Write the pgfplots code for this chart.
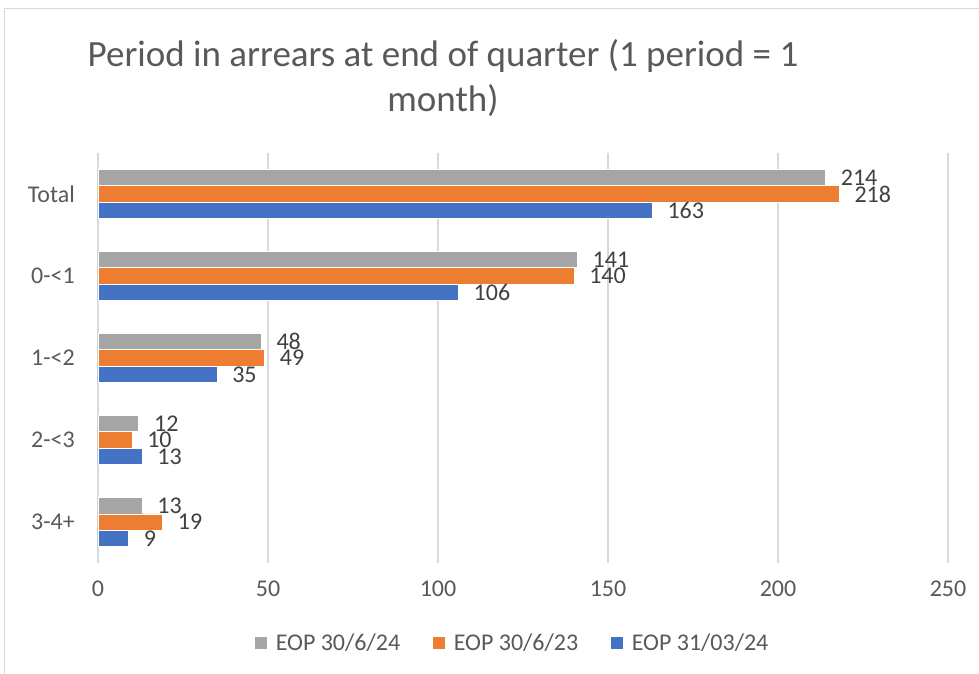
\documentclass[border=0pt]{standalone}
\usepackage{fontspec}
\setmainfont{Carlito}
\usepackage{pgfplots}
\pgfplotsset{compat=1.18}

\definecolor{cgray}{HTML}{A5A5A5}
\definecolor{corange}{HTML}{ED7D31}
\definecolor{cblue}{HTML}{4472C4}
\definecolor{txt}{HTML}{595959}
\definecolor{lbl}{HTML}{404040}
\definecolor{gridc}{HTML}{D9D9D9}

% categories: 0 = 3-4+, ..., 4 = Total
\pgfplotstableread{
y  v
0  13
1  12
2  48
3  141
4  214
}\eopA
\pgfplotstableread{
y  v
0  19
1  10
2  49
3  140
4  218
}\eopB
\pgfplotstableread{
y  v
0  9
1  13
2  35
3  106
4  163
}\eopC

\begin{document}
\begin{tikzpicture}[x=1pt,y=1pt]
\useasboundingbox (-98,-111) rectangle (881,563);
\draw[gridc, line width=1pt] (-93,-120) -- (-93,554) -- (890,554);
\node[anchor=base, font=\fontsize{37}{44}\selectfont, text=txt, inner sep=0pt]
  at (345,496) {Period in arrears at end of quarter (1 period = 1};
\node[anchor=base, font=\fontsize{37}{44}\selectfont, text=txt, inner sep=0pt]
  at (345,451) {month)};
\begin{axis}[
    at={(0,0)}, anchor=south west,
    scale only axis, width=850pt, height=410pt,
    xbar, bar width=16.4pt,
    xmin=0, xmax=250, ymin=-0.5, ymax=4.5,
    enlargelimits=false, clip=false,
    xtick={0,50,...,250},
    ytick={0,1,2,3,4},
    yticklabels={3-4+,2-<3,1-<2,0-<1,Total},
    axis line style={draw=none},
    major tick length=0pt,
    xmajorgrids, grid style={gridc, line width=1.3pt},
    /pgf/number format/assume math mode=true,
    ticklabel style={font=\fontsize{24}{28}\selectfont, text=txt, inner sep=0pt},
    xticklabel style={yshift=-18pt},
    yticklabel style={xshift=-23pt},
    nodes near coords,
    every node near coord/.append style={font=\fontsize{24}{28}\selectfont,
        text=lbl, anchor=west, inner sep=0pt, xshift=15pt},
    legend image code/.code={\fill[#1] (0pt,-6.5pt) rectangle (13pt,6.5pt);},
    legend columns=3,
    legend style={at={(0.1835,-0.195)}, anchor=west, draw=none, inner sep=0pt,
        font=\fontsize{24}{28}\selectfont, text=txt,
        nodes={inner sep=0pt},
        /tikz/every odd column/.append style={column sep=8pt},
        /tikz/every even column/.append style={column sep=32pt}},
]
\addplot[fill=cgray, draw=white, line width=0.6pt, bar shift=16.4pt] table[x=v,y=y] {\eopA};
\addlegendentry{EOP 30/6/24}
\addplot[fill=corange, draw=white, line width=0.6pt, bar shift=0pt] table[x=v,y=y] {\eopB};
\addlegendentry{EOP 30/6/23}
\addplot[fill=cblue, draw=white, line width=0.6pt, bar shift=-16.4pt] table[x=v,y=y] {\eopC};
\addlegendentry{EOP 31/03/24}
\end{axis}
\end{tikzpicture}
\end{document}
